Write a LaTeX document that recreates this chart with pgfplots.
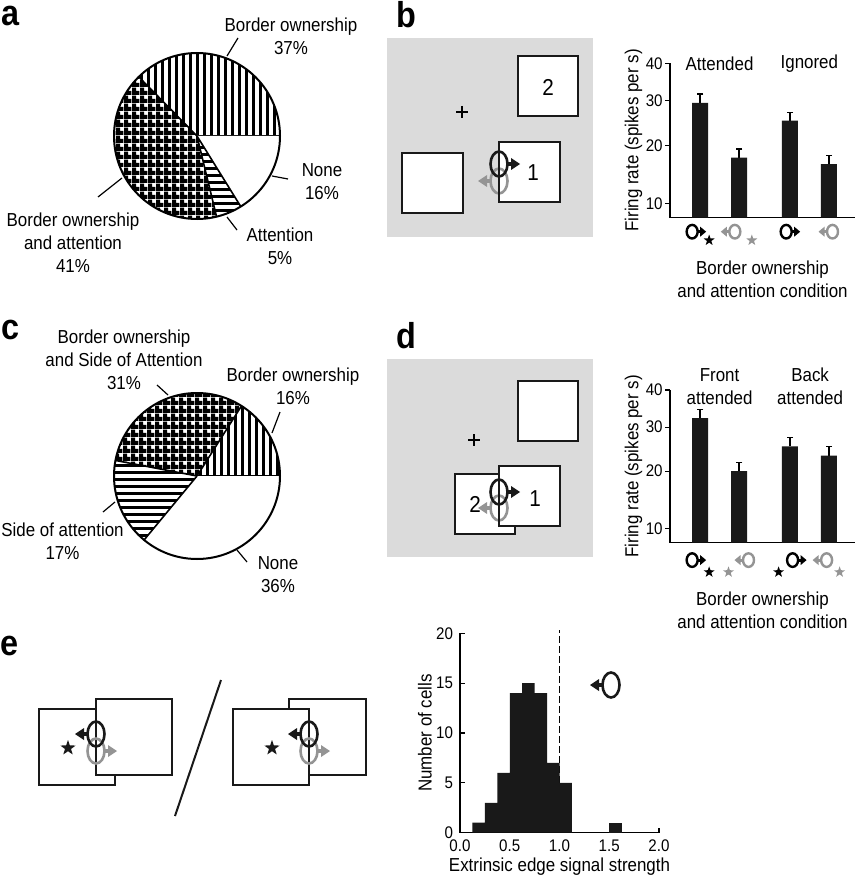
\documentclass[border=0pt]{standalone}
\usepackage{fontspec}
\setmainfont{Liberation Sans}[FakeStretch=0.9]
\usepackage{pgfplots}
\pgfplotsset{compat=1.18}
\usetikzlibrary{patterns,shapes.geometric}

\definecolor{bggray}{gray}{0.86}
\colorlet{lg}{black!42}

\pgfdeclarepatternformonly{vbars}{\pgfpointorigin}{\pgfqpoint{3.7pt}{3.7pt}}{\pgfqpoint{3.7pt}{3.7pt}}{\pgfpathrectangle{\pgfpointorigin}{\pgfqpoint{1.5pt}{3.7pt}}\pgfusepath{fill}}
\pgfdeclarepatternformonly{hbars}{\pgfpointorigin}{\pgfqpoint{3.7pt}{3.7pt}}{\pgfqpoint{3.7pt}{3.7pt}}{\pgfpathrectangle{\pgfpointorigin}{\pgfqpoint{3.7pt}{1.5pt}}\pgfusepath{fill}}
\pgfdeclarepatternformonly{xgrid}{\pgfpointorigin}{\pgfqpoint{3.85pt}{3.85pt}}{\pgfqpoint{3.85pt}{3.85pt}}{\pgfpathrectangle{\pgfpointorigin}{\pgfqpoint{3.85pt}{2.1pt}}\pgfpathrectangle{\pgfpointorigin}{\pgfqpoint{2.1pt}{3.85pt}}\pgfusepath{fill}}

\newcommand\fnt{\fontsize{9.4}{11.5}\selectfont}
\newcommand\tfnt{\fontsize{8.4}{10}\selectfont}
\newcommand\plab{\fontsize{18}{18}\selectfont\bfseries}

% pie wedge: before, value, total, pattern
\newcommand\piewedge[4]{%
  \pgfmathsetmacro\wa{#1/#3*360}\pgfmathsetmacro\wb{(#1+#2)/#3*360}%
  \fill[white] (0,0) -- (\wa:83) arc[start angle=\wa, end angle=\wb, radius=83] -- cycle;
  \fill[pattern=#4] (0,0) -- (\wa:83) arc[start angle=\wa, end angle=\wb, radius=83] -- cycle;
  \draw[line width=0.8pt] (0,0) -- (\wa:83);}
\newcommand\piewedgeW[3]{%
  \pgfmathsetmacro\wa{#1/#3*360}\pgfmathsetmacro\wb{(#1+#2)/#3*360}%
  \fill[white] (0,0) -- (\wa:83) arc[start angle=\wa, end angle=\wb, radius=83] -- cycle;
  \draw[line width=0.8pt] (0,0) -- (\wa:83);}

% small icons (units px, y up)
\newcommand\smallR[3]{%
  \draw[#1, line width=1.2pt] (#2,#3) ellipse [x radius=5.5, y radius=6.8];
  \draw[#1, line width=1.5pt] (#2+5,#3) -- (#2+9,#3);
  \fill[#1] (#2+8,#3-5) -- (#2+14,#3) -- (#2+8,#3+5) -- cycle;}
\newcommand\smallL[3]{%
  \draw[#1, line width=1.2pt] (#2,#3) ellipse [x radius=5.5, y radius=6.8];
  \draw[#1, line width=1.5pt] (#2-5,#3) -- (#2-9,#3);
  \fill[#1] (#2-8,#3-5) -- (#2-14,#3) -- (#2-8,#3+5) -- cycle;}
\newcommand\sstar[3]{\node[star, star points=5, star point ratio=2.5, fill=#1, draw=none, inner sep=0pt, minimum size=5.8pt, anchor=center] at (#2,#3) {};}
\newcommand\icbA{\tikz[x=0.5pt,y=0.5pt]{\smallR{black}{0}{0}\sstar{black}{17}{-8}}}
\newcommand\icbB{\tikz[x=0.5pt,y=0.5pt]{\smallL{lg}{0}{0}\sstar{lg}{17}{-8}}}
\newcommand\icbC{\tikz[x=0.5pt,y=0.5pt]{\smallR{black}{0}{0}}}
\newcommand\icbD{\tikz[x=0.5pt,y=0.5pt]{\smallL{lg}{0}{0}}}
\newcommand\icdB{\tikz[x=0.5pt,y=0.5pt]{\sstar{lg}{-20}{-8}\smallL{lg}{0}{0}}}
\newcommand\icdC{\tikz[x=0.5pt,y=0.5pt]{\sstar{black}{-14}{-8}\smallR{black}{0}{0}}}
\newcommand\icdD{\tikz[x=0.5pt,y=0.5pt]{\smallL{lg}{0}{0}\sstar{lg}{13}{-8}}}

% big icons (px scope, y down)
\newcommand\bigR[3]{%
  \draw[#1, line width=1.3pt] (#2,#3) ellipse [x radius=8.5, y radius=12.5];
  \draw[#1, line width=2pt] (#2+8,#3) -- (#2+14,#3);
  \fill[#1] (#2+12,#3-6) -- (#2+21,#3) -- (#2+12,#3+6) -- cycle;}
\newcommand\bigL[3]{%
  \draw[#1, line width=1.3pt] (#2,#3) ellipse [x radius=8.5, y radius=12.5];
  \draw[#1, line width=2pt] (#2-8,#3) -- (#2-14,#3);
  \fill[#1] (#2-12,#3-6) -- (#2-21,#3) -- (#2-12,#3+6) -- cycle;}
\newcommand\bstar[2]{\node[star, star points=5, star point ratio=2.5, fill=black!90, inner sep=0pt, minimum size=8pt] at (#1,#2) {};}
\tikzset{sq/.style={draw=black!90, line width=1pt, fill=white}}

\pgfplotsset{
  sqrtbars/.style={
    scale only axis, anchor=south west,
    xmin=-0.77, xmax=3.97, ymin=8.06, ymax=40,
    y coord trafo/.code={\pgfmathparse{sqrt(##1)}},
    y coord inv trafo/.code={\pgfmathparse{(##1)^2}},
    axis lines=left, axis line style={-, line width=0.6pt},
    ytick={10,20,30,40}, yticklabels={10,20,30,40},
    xtick={0,1,2.3,3.3},
    x tick style={draw=none}, y tick style={line width=0.6pt, black},
    tick align=outside, major tick length=2.5pt,
    /pgf/number format/assume math mode=true,
    yticklabel style={font=\tfnt, inner sep=1pt},
    xticklabel style={anchor=north, inner sep=0pt},
    ylabel={Firing rate (spikes per s)},
    every axis y label/.style={at={(axis description cs:-0.197,0.5)}, rotate=90, anchor=center, font=\fnt},
    xlabel={Border ownership\\and attention condition},
    every axis x label/.style={anchor=center, align=center, font=\fnt},
    clip=false,
  },
  ebar/.style={black, line width=0.7pt, forget plot},
  ecap/.style={only marks, mark=-, mark size=1.6pt, mark options={line width=0.7pt, black}, forget plot},
}

\begin{document}
\begin{tikzpicture}
\path[use as bounding box] (0,0) rectangle (429pt,-438.5pt);

% ---------- pies ----------
\begin{scope}[shift={(98.5pt,-68pt)}, x=0.5pt, y=0.5pt]
  \piewedge{0}{37}{99}{vbars}
  \piewedge{37}{41}{99}{xgrid}
  \piewedge{78}{5}{99}{hbars}
  \piewedgeW{83}{16}{99}
  \draw[line width=1pt] (0,0) circle (83);
\end{scope}
\begin{scope}[shift={(98.5pt,-238pt)}, x=0.5pt, y=0.5pt]
  \piewedge{0}{16}{100}{vbars}
  \piewedge{16}{31}{100}{xgrid}
  \piewedge{47}{17}{100}{hbars}
  \piewedgeW{64}{36}{100}
  \draw[line width=1pt] (0,0) circle (83);
\end{scope}

\begin{scope}[x=0.5pt, y=-0.5pt]
  % panel letters
  \node[anchor=base west, inner sep=0pt, font=\plab] at (1,26) {a};
  \node[anchor=base west, inner sep=0pt, font=\plab] at (396,28) {b};
  \node[anchor=base west, inner sep=0pt, font=\plab] at (1,339) {c};
  \node[anchor=base west, inner sep=0pt, font=\plab] at (396,348) {d};
  \node[anchor=base west, inner sep=0pt, font=\plab] at (0,655) {e};

  % pie a labels
  \node[align=center, font=\fnt] at (291,36.5) {Border ownership\\37\%};
  \node[align=center, font=\fnt] at (322,182) {None\\16\%};
  \node[align=center, font=\fnt] at (280,246.5) {Attention\\5\%};
  \node[align=center, font=\fnt] at (73,242.5) {Border ownership\\and attention\\41\%};
  \draw[line width=0.6pt] (227,56) -- (238,38);
  \draw[line width=0.6pt] (272,176) -- (288,179);
  \draw[line width=0.6pt] (227,217) -- (237,230);
  \draw[line width=0.6pt] (98,197) -- (122,178);
  % pie c labels
  \node[align=center, font=\fnt] at (124,360) {Border ownership\\and Side of Attention\\31\%};
  \node[align=center, font=\fnt] at (293,386.5) {Border ownership\\16\%};
  \node[align=center, font=\fnt] at (62.5,541.5) {Side of attention\\17\%};
  \node[align=center, font=\fnt] at (278,575) {None\\36\%};
  \draw[line width=0.6pt] (157,385) -- (168,395);
  \draw[line width=0.6pt] (280,412) -- (272,433);
  \draw[line width=0.6pt] (103,512) -- (115,502);
  \draw[line width=0.6pt] (237,550) -- (247,562);

  % b schematic
  \fill[bggray] (387,38) rectangle (593,237);
  \draw[sq] (518,56) rectangle (578,116);
  \node[font=\fontsize{11.5}{12}\selectfont] at (548,87) {2};
  \draw[sq] (402,153) rectangle (463,213);
  \draw[sq] (499,142) rectangle (560,202);
  \node[font=\fontsize{11.5}{12}\selectfont] at (533,173) {1};
  \draw[line width=1.2pt] (456,112) -- (468,112) (462,106) -- (462,118);
  \bigL{lg}{499}{181}
  \bigR{black!90}{499}{164}
  \draw[black!90, line width=0.8pt] (499,142) -- (499,202);

  % d schematic
  \fill[bggray] (387,359) rectangle (593,557);
  \draw[sq] (518,381) rectangle (578,441);
  \draw[line width=1.2pt] (468,440) -- (480,440) (474,434) -- (474,446);
  \draw[sq] (455,474) rectangle (515,534);
  \draw[sq] (499,466) rectangle (560,526);
  \node[font=\fontsize{11.5}{12}\selectfont] at (475,504) {2};
  \node[font=\fontsize{11.5}{12}\selectfont] at (535,499) {1};
  \bigL{lg}{499}{508}
  \bigR{black!90}{499}{492}
  \draw[black!90, line width=0.8pt] (499,466) -- (499,526);

  % e schematics
  \draw[sq] (39,709) rectangle (115,785);
  \draw[sq] (96,699) rectangle (172,775);
  \bstar{68}{748}
  \bigR{lg}{96}{751}
  \bigL{black!90}{96}{734}
  \draw[sq] (289,699) rectangle (366,775);
  \draw[sq] (233,709) rectangle (309,785);
  \bstar{272}{748}
  \bigR{lg}{309}{751}
  \bigL{black!90}{309}{734}
  \draw[black!90, line width=1pt] (221,680) -- (175,816);
\end{scope}

% ---------- b bar chart ----------
\begin{axis}[sqrtbars, at={(335pt,-108.85pt)}, width=92.5pt, height=77.2pt,
  xticklabels={\icbA,\icbB,\icbC,\icbD},
  xticklabel style={yshift=-0.3pt},
  xlabel style={at={(axis description cs:0.5,-0.402)}}]
\addplot[ebar] coordinates {(0,29.5) (0,31.7)};
\addplot[ebar] coordinates {(1,17.6) (1,19.3)};
\addplot[ebar] coordinates {(2.3,25.3) (2.3,27.2)};
\addplot[ebar] coordinates {(3.3,16.4) (3.3,18.0)};
\addplot[ecap] coordinates {(0,31.7) (1,19.3) (2.3,27.2) (3.3,18.0)};
\addplot[ybar, bar width=8pt, fill=black!90, draw=none]
  coordinates {(0,29.5) (1,17.6) (2.3,25.3) (3.3,16.4)};
\node[font=\fnt] at (axis cs:0.5,40) {Attended};
\node[font=\fnt] at (axis cs:2.8,40) {Ignored};
\end{axis}

% ---------- d bar chart ----------
\begin{axis}[sqrtbars, at={(335pt,-271.35pt)}, width=92.5pt, height=76.35pt,
  xticklabels={\icbA,\icdB,\icdC,\icdD},
  xticklabel style={yshift=-2pt},
  xlabel style={at={(axis description cs:0.5,-0.44)}}]
\addplot[ebar] coordinates {(0,32.3) (0,34.6)};
\addplot[ebar] coordinates {(1,20.0) (1,21.8)};
\addplot[ebar] coordinates {(2.3,25.4) (2.3,27.5)};
\addplot[ebar] coordinates {(3.3,23.3) (3.3,25.4)};
\addplot[ecap] coordinates {(0,34.6) (1,21.8) (2.3,27.5) (3.3,25.4)};
\addplot[ybar, bar width=8pt, fill=black!90, draw=none]
  coordinates {(0,32.3) (1,20.0) (2.3,25.4) (3.3,23.3)};
\node[font=\fnt, align=center] at (axis cs:0.5,40) [yshift=1.75pt] {Front\\attended};
\node[font=\fnt, align=center] at (axis cs:2.82,40) [yshift=1.75pt] {Back\\attended};
\end{axis}

% ---------- e histogram ----------
\begin{axis}[scale only axis, anchor=south west, at={(230pt,-416.35pt)},
  width=99.5pt, height=99.7pt,
  xmin=0, xmax=2, ymin=0, ymax=20,
  axis lines=left, axis line style={-, line width=0.6pt},
  xtick={0,0.5,1,1.5,2}, xticklabels={0.0,0.5,1.0,1.5,2.0},
  ytick={0,5,10,15,20}, yticklabels={0,5,10,15,20},
  tick align=inside, major tick length=2.5pt, tick style={line width=0.6pt, black},
  /pgf/number format/assume math mode=true,
  ticklabel style={font=\tfnt},
  ylabel={Number of cells},
  every axis y label/.style={at={(axis description cs:-0.176,0.5)}, rotate=90, anchor=center, font=\fnt},
  xlabel={Extrinsic edge signal strength},
  every axis x label/.style={at={(axis description cs:0.5,-0.172)}, anchor=center, font=\fnt},
  clip=false]
\addplot[black, line width=0.7pt, dash pattern=on 3.3pt off 1.7pt] coordinates {(1,0) (1,20.3)};
\addplot[ybar interval, fill=black!90, draw=none]
  coordinates {(0.125,1) (0.25,3) (0.375,6) (0.5,14) (0.625,15) (0.75,14) (0.875,7) (1.0,5) (1.125,0)};
\addplot[ybar interval, fill=black!90, draw=none]
  coordinates {(1.5,1) (1.625,1)};
\end{axis}

\begin{scope}[x=0.5pt, y=-0.5pt]
  \bigL{black!90}{611}{685}
\end{scope}
\end{tikzpicture}
\end{document}
